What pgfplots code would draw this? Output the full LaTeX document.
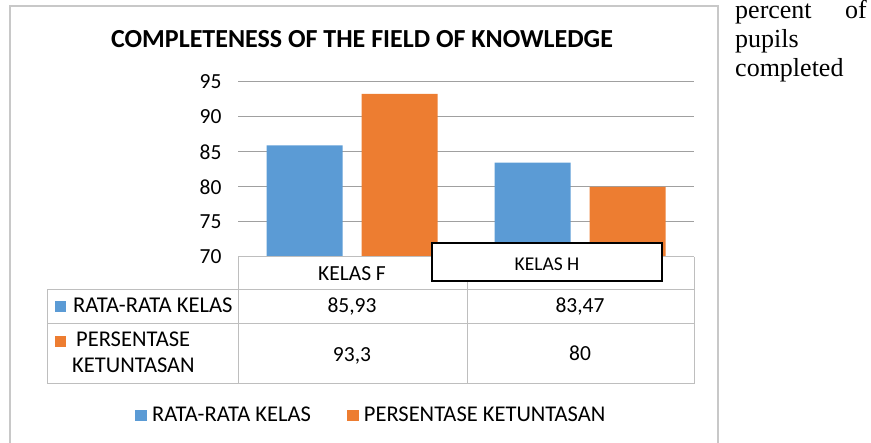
\documentclass[border=0pt]{standalone}
\usepackage{fontspec}
\setmainfont{Carlito}
\newfontfamily\docserif{Liberation Serif}
\usepackage{pgfplots}
\pgfplotsset{compat=1.18}
\definecolor{cblue}{HTML}{5B9BD5}
\definecolor{corange}{HTML}{ED7D31}
\definecolor{gridc}{RGB}{160,160,160}
\definecolor{tablec}{RGB}{190,190,190}
\definecolor{framec}{RGB}{200,200,200}
\newcommand{\fs}{\fontsize{21.5}{25}\selectfont}
\newcommand{\fl}{\fontsize{22.5}{26}\selectfont}
\begin{document}
\begin{tikzpicture}
\path[use as bounding box] (0pt,0pt) rectangle (871pt,-443pt);
\draw[framec, line width=1.3pt] (10pt,-6pt) rectangle (718pt,-470pt);
\node[font=\fontsize{26}{30}\selectfont\bfseries, anchor=base] at (362pt,-48pt) {COMPLETENESS OF THE FIELD OF KNOWLEDGE};
% document text on the right
\node[font=\docserif\fontsize{26}{29}\selectfont, anchor=base west, inner sep=0pt] at (735pt,-19pt) {percent};
\node[font=\docserif\fontsize{26}{29}\selectfont, anchor=base east, inner sep=0pt] at (867pt,-19pt) {of};
\node[font=\docserif\fontsize{26}{29}\selectfont, anchor=base west, inner sep=0pt] at (735pt,-48pt) {pupils};
\node[font=\docserif\fontsize{26}{29}\selectfont, anchor=base west, inner sep=0pt] at (735pt,-77pt) {completed};
\begin{axis}[
  at={(238pt,-257pt)}, anchor=south west,
  scale only axis, width=456pt, height=175pt,
  xmin=-0.5, xmax=1.5, ymin=70, ymax=95,
  ytick={70,75,80,85,90,95},
  xtick=\empty,
  axis line style={draw=none},
  major tick length=0pt,
  ymajorgrids, grid style={gridc, line width=1pt},
  ticklabel style={font=\fs},
  /pgf/number format/assume math mode=true,
  yticklabel style={xshift=-13pt},
  clip=false,
  legend columns=2,
  legend style={at={(axis description cs:-0.2259,-0.903)}, anchor=west,
    draw=none, fill=none, inner sep=0pt, font=\fl,
    nodes={inner sep=0pt},
    /tikz/every odd column/.append style={column sep=5pt},
    /tikz/every even column/.append style={column sep=36pt}},
]
\addplot[ybar, bar width=76pt, bar shift=-47.5pt, fill=cblue, draw=none,
  legend image code/.code={\path[fill=cblue] (0pt,-5.5pt) rectangle (12pt,5.5pt);}]
  coordinates {(0,85.93) (1,83.47)};
\addplot[ybar, bar width=76pt, bar shift=47.5pt, fill=corange, draw=none,
  legend image code/.code={\path[fill=corange] (0pt,-5.5pt) rectangle (12pt,5.5pt);}]
  coordinates {(0,93.3) (1,80)};
\legend{RATA-RATA KELAS, PERSENTASE KETUNTASAN}
\end{axis}
% data table
\begin{scope}[tablec, line width=1pt]
\draw (238pt,-257pt) -- (694pt,-257pt);
\draw (47pt,-290pt) -- (694pt,-290pt);
\draw (47pt,-324pt) -- (694pt,-324pt);
\draw (47pt,-384pt) -- (694pt,-384pt);
\draw (47pt,-290pt) -- (47pt,-384pt);
\draw (238pt,-257pt) -- (238pt,-384pt);
\draw (467pt,-257pt) -- (467pt,-384pt);
\draw (694pt,-257pt) -- (694pt,-384pt);
\end{scope}
\node[font=\fs, anchor=base] at (352pt,-281pt) {KELAS F};
\draw[black, line width=1.6pt, fill=white] (432pt,-243pt) rectangle (662pt,-281pt);
\node[font=\fontsize{19.5}{23}\selectfont, anchor=base] at (547pt,-271pt) {KELAS H};
\fill[cblue] (55pt,-301pt) rectangle (66pt,-312pt);
\node[font=\fontsize{22.6}{26}\selectfont, anchor=base west, inner sep=0pt] at (73pt,-313pt) {RATA-RATA KELAS};
\node[font=\fs, anchor=base] at (352pt,-313pt) {85,93};
\node[font=\fs, anchor=base] at (580pt,-313pt) {83,47};
\fill[corange] (55pt,-336pt) rectangle (66pt,-347pt);
\node[font=\fl, anchor=base west, inner sep=0pt] at (76pt,-347pt) {PERSENTASE};
\node[font=\fl, anchor=base west, inner sep=0pt] at (72pt,-373pt) {KETUNTASAN};
\node[font=\fs, anchor=base] at (352pt,-362pt) {93,3};
\node[font=\fs, anchor=base] at (580pt,-361pt) {80};
\end{tikzpicture}
\end{document}
